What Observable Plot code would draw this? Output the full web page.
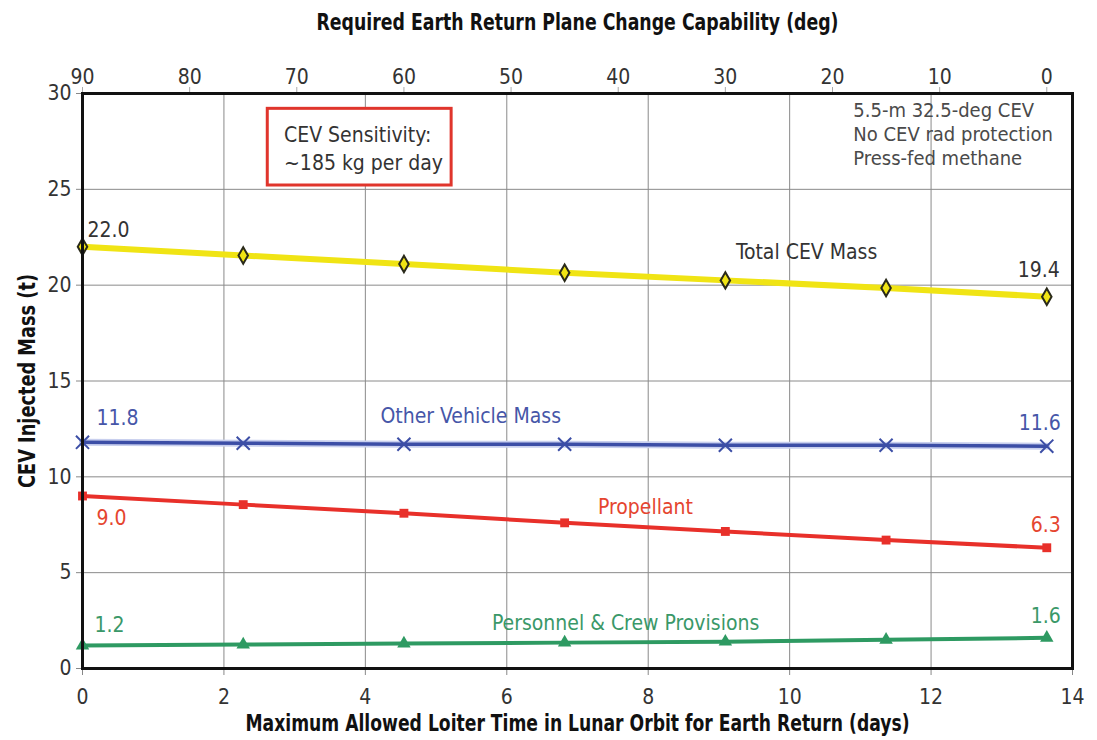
<!DOCTYPE html>
<html><head><meta charset="utf-8">
<script src="https://cdn.jsdelivr.net/npm/d3@7"></script>
<script src="https://cdn.jsdelivr.net/npm/@observablehq/plot@0.6"></script>
<style>
body{margin:0;background:#fff}
#chart svg{display:block}
</style>
</head><body><div id="chart"></div>
<script>
// ---- data ----
const planeChangeDeg = [90, 75, 60, 45, 30, 15, 0];   // top axis value of each point
const degPerDay = 6.6;                                 // 90 deg  <->  13.64 days
const totalMass = [22.0, 21.55, 21.1, 20.65, 20.25, 19.85, 19.4];
const otherVehicleMass = [11.8, 11.75, 11.7, 11.7, 11.65, 11.65, 11.6];
const propellant = [9.0, 8.55, 8.1, 7.6, 7.15, 6.7, 6.3];
const personnel = [1.2, 1.25, 1.3, 1.35, 1.4, 1.5, 1.6];
const seriesNames = ["Total CEV Mass", "Other Vehicle Mass", "Propellant", "Personnel & Crew Provisions"];
const dayTicks = [0, 2, 4, 6, 8, 10, 12, 14];
const degTicks = [90, 80, 70, 60, 50, 40, 30, 20, 10, 0];
const massTicks = [0, 5, 10, 15, 20, 25, 30];
const noteLines = ["5.5-m 32.5-deg CEV", "No CEV rad protection", "Press-fed methane"];
const sensitivityLines = ["CEV Sensitivity:", "~185 kg per day"];
const titleBottom = "Maximum Allowed Loiter Time in Lunar Orbit for Earth Return (days)";
const titleTop = "Required Earth Return Plane Change Capability (deg)";
const titleY = "CEV Injected Mass (t)";

// ---- build table ----
const days = planeChangeDeg.map(d => (90 - d) / degPerDay);
const valuesBySeries = [totalMass, otherVehicleMass, propellant, personnel];
const rows = [];
seriesNames.forEach((s, i) => valuesBySeries[i].forEach((v, j) => rows.push({series: s, days: days[j], mass: v})));
const bySeries = s => rows.filter(r => r.series === s);
const first = s => bySeries(s)[0];
const last = s => bySeries(s).at(-1);

const colors = {
  "Total CEV Mass": "#f0e414",
  "Other Vehicle Mass": "#3c4ea6",
  "Propellant": "#e8302a",
  "Personnel & Crew Provisions": "#2e9a62"
};
const labelColors = {
  "Total CEV Mass": "#333333",
  "Other Vehicle Mass": "#4656a8",
  "Propellant": "#e5452f",
  "Personnel & Crew Provisions": "#3a9868"
};

const FONT = "'Liberation Sans Narrow','Arial Narrow','DejaVu Sans Condensed',sans-serif";

const chart = Plot.plot({
  width: 1097,
  height: 740,
  marginLeft: 82,
  marginRight: 25,
  marginTop: 93,
  marginBottom: 72,
  style: {fontFamily: FONT, fontSize: "20px", color: "#333", background: "#fff"},
  x: {domain: [0, 14]},
  y: {domain: [0, 30]},
  marks: [
    Plot.ruleX(dayTicks, {stroke: "#8a8a8a", strokeWidth: 1}),
    Plot.ruleY(massTicks, {stroke: "#8a8a8a", strokeWidth: 1}),
    // bottom axis
    Plot.axisX({anchor: "bottom", ticks: dayTicks, tickSize: 7, tickPadding: 14, stroke: "#888",
      fill: "#333", fontSize: 21, label: titleBottom,
      labelAnchor: "center", labelArrow: "none", labelOffset: 62}),
    // top axis (plane change degrees)
    Plot.axisX({anchor: "top", ticks: degTicks.map(d => (90 - d) / degPerDay),
      tickFormat: v => String(Math.round(90 - v * degPerDay)), tickSize: 7, tickPadding: 3,
      stroke: "#aaa", fill: "#333", fontSize: 21,
      label: titleTop, labelAnchor: "center",
      labelArrow: "none", labelOffset: 80}),
    Plot.axisY({anchor: "left", ticks: massTicks, tickSize: 6, tickPadding: 5, stroke: "#888",
      fill: "#333", fontSize: 21, label: titleY, labelAnchor: "center",
      labelArrow: "none", labelOffset: 64}),
    // lines
    Plot.line(bySeries("Total CEV Mass"), {x: "days", y: "mass", stroke: colors["Total CEV Mass"], strokeWidth: 6}),
    Plot.line(bySeries("Other Vehicle Mass"), {x: "days", y: "mass", stroke: "#c8cfee", strokeWidth: 7}),
    Plot.line(bySeries("Other Vehicle Mass"), {x: "days", y: "mass", stroke: colors["Other Vehicle Mass"], strokeWidth: 3.5}),
    Plot.line(bySeries("Propellant"), {x: "days", y: "mass", stroke: colors["Propellant"], strokeWidth: 4}),
    Plot.line(bySeries("Personnel & Crew Provisions"), {x: "days", y: "mass", stroke: colors["Personnel & Crew Provisions"], strokeWidth: 4}),
    // markers
    Plot.dot(bySeries("Total CEV Mass"), {x: "days", y: "mass", symbol: "diamond", r: 5, fill: colors["Total CEV Mass"], stroke: "#2a2a1a", strokeWidth: 2}),
    Plot.dot(bySeries("Other Vehicle Mass"), {x: "days", y: "mass", symbol: "times", r: 6, stroke: colors["Other Vehicle Mass"], strokeWidth: 2}),
    Plot.dot(bySeries("Propellant"), {x: "days", y: "mass", symbol: "square", r: 5, fill: colors["Propellant"]}),
    Plot.dot(bySeries("Personnel & Crew Provisions"), {x: "days", y: "mass", symbol: "triangle", r: 5, fill: colors["Personnel & Crew Provisions"]}),
    // end value labels
    Plot.text([first("Total CEV Mass")], {x: "days", y: "mass", text: d => d.mass.toFixed(1), textAnchor: "start", dx: 5, dy: -17, fill: labelColors["Total CEV Mass"], fontSize: 21}),
    Plot.text([last("Total CEV Mass")], {x: "days", y: "mass", text: d => d.mass.toFixed(1), textAnchor: "end", dx: 13, dy: -26, fill: labelColors["Total CEV Mass"], fontSize: 21}),
    Plot.text([first("Other Vehicle Mass")], {x: "days", y: "mass", text: d => d.mass.toFixed(1), textAnchor: "start", dx: 14, dy: -24, fill: labelColors["Other Vehicle Mass"], fontSize: 21}),
    Plot.text([last("Other Vehicle Mass")], {x: "days", y: "mass", text: d => d.mass.toFixed(1), textAnchor: "end", dx: 14, dy: -23, fill: labelColors["Other Vehicle Mass"], fontSize: 21}),
    Plot.text([first("Propellant")], {x: "days", y: "mass", text: d => d.mass.toFixed(1), textAnchor: "start", dx: 14, dy: 22, fill: labelColors["Propellant"], fontSize: 21}),
    Plot.text([last("Propellant")], {x: "days", y: "mass", text: d => d.mass.toFixed(1), textAnchor: "end", dx: 14, dy: -22, fill: labelColors["Propellant"], fontSize: 21}),
    Plot.text([first("Personnel & Crew Provisions")], {x: "days", y: "mass", text: d => d.mass.toFixed(1), textAnchor: "start", dx: 12, dy: -20, fill: labelColors["Personnel & Crew Provisions"], fontSize: 21}),
    Plot.text([last("Personnel & Crew Provisions")], {x: "days", y: "mass", text: d => d.mass.toFixed(1), textAnchor: "end", dx: 14, dy: -22, fill: labelColors["Personnel & Crew Provisions"], fontSize: 21}),
    // series name labels
    Plot.text([seriesNames[0]], {x: 10.24, y: 21.7, text: d => d, fill: labelColors[seriesNames[0]], fontSize: 21}),
    Plot.text([seriesNames[1]], {x: 5.49, y: 13.15, text: d => d, fill: labelColors[seriesNames[1]], fontSize: 21}),
    Plot.text([seriesNames[2]], {x: 7.96, y: 8.4, text: d => d, fill: labelColors[seriesNames[2]], fontSize: 21}),
    Plot.text([seriesNames[3]], {x: 7.68, y: 2.35, text: d => d, fill: labelColors[seriesNames[3]], fontSize: 21}),
    // sensitivity box
    Plot.rect([0], {x1: 2.62, x2: 5.22, y1: 25.2, y2: 29.2, fill: "#fff", stroke: "#e0352c", strokeWidth: 3}),
    Plot.text([sensitivityLines.join("\n")], {x: 2.85, y: 27.2, text: d => d, textAnchor: "start", lineHeight: 1.35, fill: "#333", fontSize: 21}),
    // top-right note
    Plot.text([noteLines.join("\n")], {x: 10.9, y: 27.9, text: d => d, textAnchor: "start", lineHeight: 1.2, fill: "#4a4a4a", fontSize: 20}),
    Plot.frame({stroke: "#111", strokeWidth: 3})
  ]
});
// axis titles: bold, condensed to the reference's widths
const titleWidths = {[titleBottom]: 664, [titleTop]: 522, [titleY]: 214};
chart.querySelectorAll("text").forEach(el => {
  const t = el.textContent;
  if (titleWidths[t]) {
    el.setAttribute("font-weight", "bold");
    el.setAttribute("fill", "#111");
    el.style.fontSize = "23px";
    el.setAttribute("textLength", titleWidths[t]);
    el.setAttribute("lengthAdjust", "spacingAndGlyphs");
  }
});
document.getElementById("chart").appendChild(chart);
</script>
</body></html>
